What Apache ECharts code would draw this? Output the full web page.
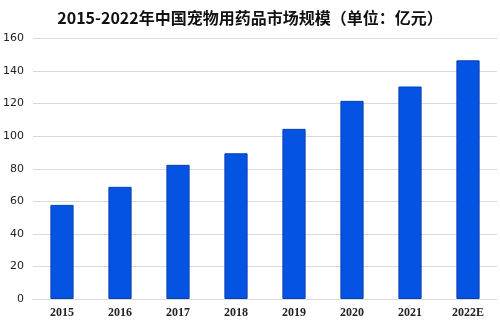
<!DOCTYPE html>
<html><head><meta charset="utf-8">
<script src="https://cdn.jsdelivr.net/npm/echarts@6/dist/echarts.min.js"></script>
<style>html,body{margin:0;padding:0;background:#fff}#c{width:500px;height:326px}</style>
</head><body><div id="c"></div>
<script>
var titleText = '2015-2022年中国宠物用药品市场规模（单位：亿元）';
var categories = ['2015','2016','2017','2018','2019','2020','2021','2022E'];
var values = [57.8, 68.9, 82.4, 89.5, 104.5, 121.7, 130.5, 146.6];
var yTicks = [0, 20, 40, 60, 80, 100, 120, 140, 160];

var chart = echarts.init(document.getElementById('c'));
chart.setOption({
  animation: false,
  title: {
    text: titleText, left: 'center', top: 5,
    textStyle: {fontFamily: 'Noto Sans CJK SC', fontWeight: 'bold', fontSize: 16, color: '#111'}
  },
  grid: {left: 30, right: 3, top: 38.5, bottom: 27},
  xAxis: {
    type: 'category', data: categories,
    axisLine: {lineStyle: {color: '#d9d9d9'}},
    axisTick: {show: false},
    axisLabel: {fontFamily: 'Liberation Serif', fontWeight: 'bold', fontSize: 12, color: '#222', margin: 8}
  },
  yAxis: {
    type: 'value', min: yTicks[0], max: yTicks[yTicks.length-1], interval: 20,
    axisLine: {show: false}, axisTick: {show: false},
    splitLine: {lineStyle: {color: '#d9d9d9'}},
    axisLabel: {fontFamily: 'DejaVu Sans', fontSize: 11, color: '#222', margin: 9}
  },
  series: [{
    type: 'bar', data: values, barWidth: '40%',
    itemStyle: {color: '#0553E3', borderColor: '#0A3FB0', borderWidth: 1}
  }]
});
</script></body></html>
